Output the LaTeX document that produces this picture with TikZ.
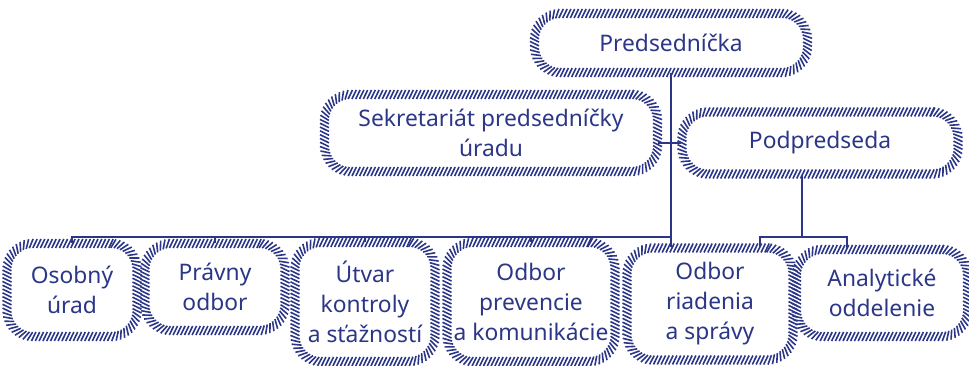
\documentclass[tikz,border=0pt]{standalone}
\usepackage{fontspec}
\setmainfont{Noto Sans}
\usetikzlibrary{decorations.markings}
\definecolor{navy}{RGB}{43,54,135}
\tikzset{
	hatch/.style={rounded corners=#1, postaction={decorate, decoration={markings, mark=between positions 0 and 1 step 3.8pt with {\draw[navy, line width=1.6pt] (-2.2pt,-4.5pt)--(2.2pt,4.5pt);}}}},
	unit/.style args={#1x#2}{hatch=26pt, minimum width=#1pt, minimum height=#2pt, inner sep=0pt, align=center, text=navy},
}
\begin{document}
\begin{tikzpicture}[x=1pt, y=-1pt, color=navy, line width=1.3pt, font=\fontsize{22.8}{30}\selectfont]
			\useasboundingbox (0,0) rectangle (969,366);
			\node[unit=273x59] (pred) at (671,43) {Predsedníčka};
			\node[unit=333x77] (sekr) at (491,133) {Sekretariát predsedníčky\\úradu};
			\node[unit=276x62] (podp) at (820,143) {Podpredseda};
			\node[unit=130x93] (osob) at (72,290) {Osobný\\úrad};
			\node[unit=140x87] (prav) at (215,287) {Právny\\odbor};
			\node[unit=140x119] (utv) at (365,302) {Útvar\\kontroly\\a sťažností};
			\node[unit=168x119] (prev) at (531,302) {Odbor\\prevencie\\a komunikácie};
			\node[unit=166x112] (riad) at (710,304) {Odbor\\riadenia\\a správy};
			\node[unit=171x87] (anal) at (882,293) {Analytické\\oddelenie};
			\coordinate (bus) at (671,237);
			\coordinate (pbus) at ([xshift=-18pt]podp.south |- bus);
			\draw (pred.south)--(pred.south |- riad.north);
			\draw (podp.west)--(podp.west -| sekr.east);
			\draw (osob.north) |- (bus);
			\foreach \n in {prav,utv,prev}{\draw (\n.north)--(\n.north |- bus);}
			\draw ([xshift=-18pt]podp.south)--(pbus);
			\draw ([xshift=50pt]riad.north) |- (pbus) -| ([xshift=-35pt]anal.north);
		\end{tikzpicture}
\end{document}
